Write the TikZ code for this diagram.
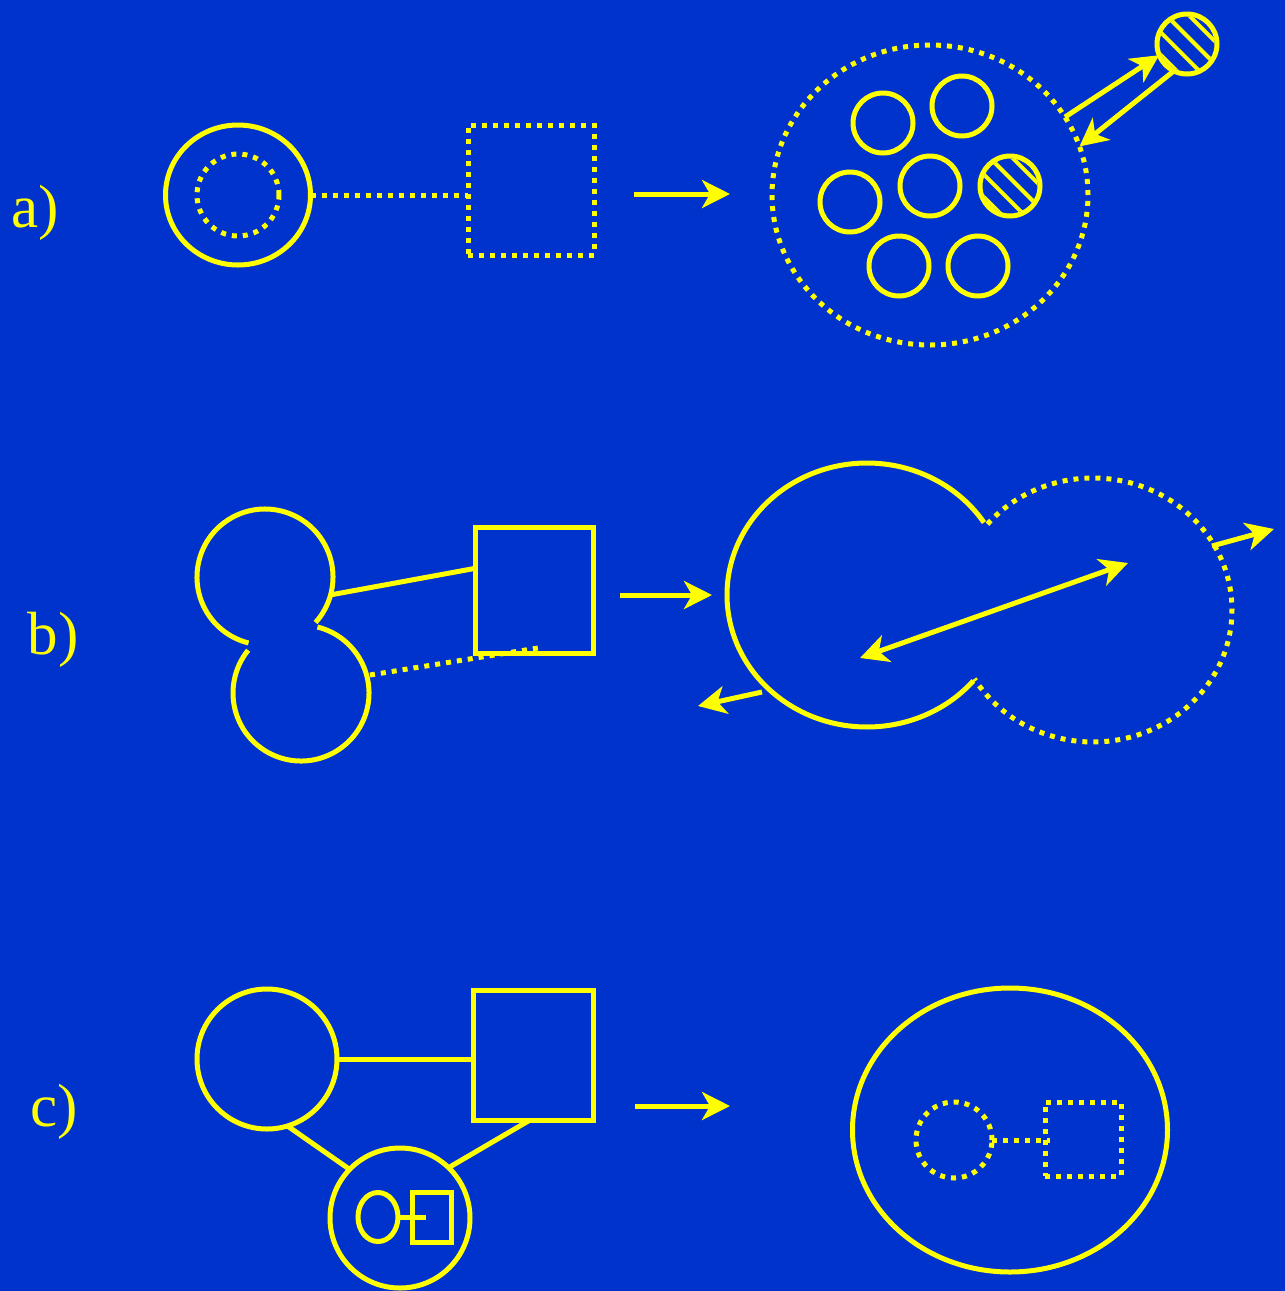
\documentclass[tikz,border=0pt]{standalone}
\usepackage{fontspec}
\setmainfont{Liberation Serif}
\usetikzlibrary{arrows.meta,shapes.geometric}
\definecolor{bgblue}{RGB}{0,51,204}
\definecolor{ylw}{RGB}{255,255,0}
\begin{document}
\begin{tikzpicture}[x=1pt,y=-1pt,
  every node/.style={inner sep=0pt, outer sep=0pt},
  yl/.style={draw=ylw, line width=5pt},
  dots/.style={yl, dash pattern=on 5pt off 6pt},
  ring/.style={yl, circle},
  oval/.style={yl, ellipse},
  box/.style={yl, rectangle},
  tip/.tip={Stealth[length=28pt,width=28pt,inset=8pt]},
  arr/.style={draw=ylw, line width=5pt, -tip},
  darr/.style={draw=ylw, line width=5pt, tip-tip},
  hatchline/.style={draw=ylw, line width=4pt},
  lbl/.style={text=ylw, font=\fontsize{61}{61}\selectfont}]
\useasboundingbox (0,0) rectangle (1285,1291);
\fill[bgblue] (0,0) rectangle (1285,1291);

% ---------- a) ----------
\node[lbl] (la) at (35,213) {a)};
\node[oval, minimum width=145pt, minimum height=140pt] (a1) at (238,195) {};
\node[circle, dots, minimum size=82pt] (a2) at (238,195) {};
\node[box, dots, minimum width=126pt, minimum height=130pt] (a3) at (531,190) {};
\draw[dots] (a1.east) -- (a1.east -| a3.west);
\coordinate (aa1) at (634,194);
\coordinate (aa2) at (730,194);
\draw[arr] (aa1) -- (aa2);
\node[oval, dots, minimum width=316pt, minimum height=300pt] (a4) at (930,195) {};
\foreach \n/\px/\py in {s1/883/123, s2/962/106, s3/850/202, s4/930/186, s5/1010/186, s6/899/266, s7/978/266, h2/1187/44}
  \node[ring, minimum size=60pt] (\n) at (\px,\py) {};
\foreach \n in {s5,h2}{
  \begin{scope}
    \clip (\n.center) circle (27.5pt);
    \foreach \k in {-2,...,2}
      \draw[hatchline] ([shift={(\k*11.3-32+4,-\k*11.3-32-4)}]\n.center) -- ++(64,64);
  \end{scope}
}
\draw[arr] (a4.30.4) -- (h2.202);
\draw[arr] (h2.244) -- (a4.18);

% ---------- b) ----------
\node[lbl] (lb) at (53,640) {b)};
\coordinate (bu) at (265,577);
\coordinate (bl) at (301,693);
\draw[yl] (bu) ++(104:68) arc[start angle=104, end angle=402, radius=68];
\draw[yl] (bl) ++(284:68) arc[start angle=284, end angle=579, radius=68];
\node[box, minimum width=118pt, minimum height=126pt] (b2) at (534,590) {};
\coordinate (bu1) at (330,595);
\coordinate (b2a) at (477,568);
\draw[yl] (bu1) -- (b2a);
\coordinate (bl1) at (370,675);
\coordinate (b2b) at (538,648);
\draw[dots] (bl1) -- (b2b);
\coordinate (ba1) at (620,595);
\coordinate (ba2) at (712,595);
\draw[arr] (ba1) -- (ba2);
\coordinate (bs) at (867,595);
\draw[yl] (bs) ++(40.6:140 and 132) arc[start angle=40.6, end angle=326.7, x radius=140, y radius=132];
\coordinate (bd) at (1093,610);
\draw[dots] (bd) ++(220.6:139 and 132) arc[start angle=220.6, end angle=508.6, x radius=139, y radius=132];
\coordinate (bx1) at (860,658);
\coordinate (bx2) at (1128,563);
\draw[darr] (bx1) -- (bx2);
\coordinate (br1) at (1212,546);
\coordinate (br2) at (1274,529);
\draw[arr] (br1) -- (br2);
\coordinate (bq1) at (762,692);
\coordinate (bq2) at (698,706);
\draw[arr] (bq1) -- (bq2);

% ---------- c) ----------
\node[lbl] (lc) at (54,1112) {c)};
\node[ring, minimum size=140pt] (c1) at (267,1059) {};
\node[box, minimum width=120pt, minimum height=130pt] (c2) at (533,1055) {};
\draw[yl] (c1.east) -- (c1.east -| c2.west);
\node[ring, minimum size=140pt] (c3) at (400,1218) {};
\draw[yl] (c1.-73) -- (c3.136);
\draw[yl] ([xshift=-3pt]c2.south) -- (c3.46);
\node[oval, minimum width=40pt, minimum height=49pt] (c4) at (378,1217) {};
\node[box, minimum width=39pt, minimum height=50pt] (c5) at (432,1217) {};
\coordinate (c5in) at ([xshift=13pt]c5.west);
\draw[yl] (c4.east) -- (c5in);
\coordinate (ca1) at (635,1106);
\coordinate (ca2) at (730,1106);
\draw[arr] (ca1) -- (ca2);
\node[oval, minimum width=315pt, minimum height=284pt] (c6) at (1010,1130) {};
\node[circle, dots, minimum size=76pt] (c7) at (954,1140) {};
\node[box, dots, minimum width=76pt, minimum height=74pt] (c8) at (1083,1139) {};
\coordinate (c8in) at ([xshift=5pt]c8.west |- c7.east);
\draw[dots] (c7.east) -- (c8in);
\end{tikzpicture}
\end{document}
